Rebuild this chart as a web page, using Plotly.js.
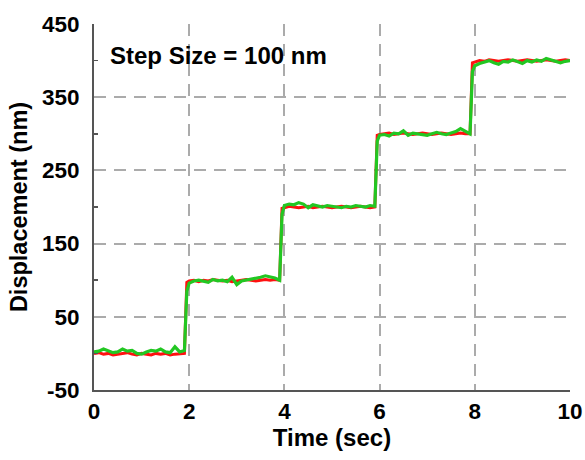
<!DOCTYPE html>
<html>
<head>
<meta charset="utf-8">
<script src="https://cdn.plot.ly/plotly-3.0.1.min.js"></script>
<style>html,body{margin:0;padding:0;background:#fff;}#chart{width:585px;height:460px;}</style>
</head>
<body>
<div id="chart"></div>
<script>
// Time points (sec)
const timeSec = [
  0.0,0.1,0.2,0.3,0.4,0.5,0.6,0.7,0.8,0.9,1.0,1.1,1.2,1.3,1.4,1.5,1.6,1.7,1.8,1.9, 1.95,
  2.0,2.1,2.2,2.3,2.4,2.5,2.6,2.7,2.8,2.9,3.0,3.1,3.2,3.3,3.4,3.5,3.6,3.7,3.8,3.9, 3.95,
  4.0,4.1,4.2,4.3,4.4,4.5,4.6,4.7,4.8,4.9,5.0,5.1,5.2,5.3,5.4,5.5,5.6,5.7,5.8,5.9, 5.95,
  6.0,6.1,6.2,6.3,6.4,6.5,6.6,6.7,6.8,6.9,7.0,7.1,7.2,7.3,7.4,7.5,7.6,7.7,7.8,7.9, 7.95,
  8.0,8.1,8.2,8.3,8.4,8.5,8.6,8.7,8.8,8.9,9.0,9.1,9.2,9.3,9.4,9.5,9.6,9.7,9.8,9.9,10.0
];
// Red trace (nm)
const redNm = [
  0,1,-1,0,-2,-1,0,1,-1,-2,0,-1,-2,0,-1,0,-2,-1,-1,0, 97,
  99,100,98,100,99,101,100,99,100,98,99,100,101,100,99,100,101,100,101,100, 198,
  199,201,200,199,200,201,199,200,201,200,199,200,201,200,199,200,201,200,199,200, 298,
  299,300,301,299,300,301,300,299,300,301,300,299,300,301,300,299,300,301,300,300, 397,
  398,400,399,401,400,399,400,401,400,399,400,401,400,399,400,401,400,399,400,401,400
];
// Green trace (nm)
const greenNm = [
  2,3,6,4,1,2,6,3,4,0,-1,2,4,3,6,2,1,9,2,4, 85,
  96,99,100,98,97,101,99,100,98,104,94,99,100,101,103,104,106,105,103,100, 190,
  202,204,203,206,204,199,203,201,200,202,201,200,199,201,200,202,201,200,202,201, 290,
  298,299,297,301,300,304,298,301,300,299,298,300,302,300,299,301,303,307,304,300, 385,
  393,396,398,400,397,395,399,398,401,399,396,400,398,401,399,403,401,398,397,399,400
];
const xTicks = [0,2,4,6,8,10];
const yTicks = [-50,50,150,250,350,450];
const titleText = 'Step Size = 100 nm';

const FONT = 'Liberation Sans, Arial, sans-serif';
const data = [
  {x: timeSec, y: redNm, type:'scatter', mode:'lines', line:{color:'#ff1010', width:3}, hoverinfo:'skip'},
  {x: timeSec, y: greenNm, type:'scatter', mode:'lines', line:{color:'#22c722', width:3.2}, hoverinfo:'skip'}
];
const layout = {
  width:585, height:460,
  margin:{l:94, r:15, t:24, b:70},
  paper_bgcolor:'#fff', plot_bgcolor:'#fff',
  showlegend:false,
  font:{family:FONT, color:'#000'},
  xaxis:{
    range:[0,10], tickvals:xTicks, ticktext:xTicks.map(String),
    showgrid:true, gridcolor:'#ababab', gridwidth:2, griddash:'12px,8px',
    showline:true, linecolor:'#555', linewidth:2, zeroline:false,
    ticks:'', tickfont:{family:FONT, size:22.5, color:'#000', weight:'bold'},
    title:{text:'<b>Time (sec)</b>', font:{family:FONT, size:24, color:'#000'}, standoff:6}
  },
  yaxis:{
    range:[-50,450], tickvals:yTicks, ticktext:yTicks.map(String),
    showgrid:true, gridcolor:'#ababab', gridwidth:2, griddash:'12px,8px',
    showline:true, linecolor:'#555', linewidth:2, zeroline:false,
    ticks:'', ticklabelstandoff:8, tickfont:{family:FONT, size:22.5, color:'#000', weight:'bold'},
    minor:{tick0:0, dtick:100, ticks:'inside', ticklen:4, tickcolor:'#555', tickwidth:1.5, showgrid:false},
    title:{text:'<b>Displacement (nm)</b>', font:{family:FONT, size:23.5, color:'#000'}, standoff:8}
  },
  annotations:[{
    xref:'paper', yref:'paper', x:0.03, y:0.915, xanchor:'left', yanchor:'middle',
    text:'<b>'+titleText+'</b>', showarrow:false, font:{family:FONT, size:24, color:'#000'}
  }]
};
Plotly.newPlot('chart', data, layout, {displayModeBar:false, staticPlot:true});
</script>
</body>
</html>
